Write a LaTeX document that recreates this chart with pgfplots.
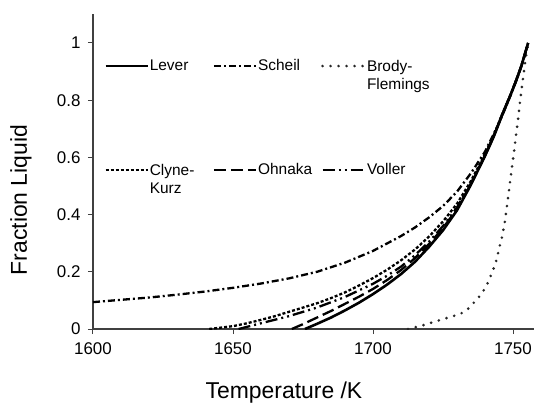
\documentclass[border=0pt]{standalone}
\usepackage{pgfplots}
\pgfplotsset{compat=1.18}
\usepackage{fontspec}
\setmainfont{Liberation Sans}
\begin{document}
\begin{tikzpicture}
\begin{axis}[
  name=ax,
  scale only axis,
  width=441bp, height=314.6bp,
  xmin=1600, xmax=1757.5, ymin=0, ymax=1.1,
  axis lines=left,
  axis line style={-, black!75, line width=1.3bp},
  xtick={1600,1650,1700,1750},
  ytick={0,0.2,0.4,0.6,0.8,1},
  tick align=outside, major tick length=5bp,
  tick style={black!75, line width=1bp},
  /pgf/number format/assume math mode=true,
  /pgf/number format/1000 sep={},
  /pgf/number format/fixed,
  tick label style={font=\fontsize{17}{20}\selectfont},
  xticklabel style={yshift=-5bp},
  yticklabel style={xshift=-4bp},
  xlabel={Temperature /K},
  ylabel={Fraction Liquid},
  label style={font=\fontsize{23}{27}\selectfont},
  xlabel style={at={(rel axis cs:0.433,0)}, anchor=base, yshift=-69bp},
  ylabel style={at={(rel axis cs:0,0.41)}, anchor=center, xshift=0bp, yshift=72bp},
  legend columns=3,
  legend style={at={(rel axis cs:0.025,0.862)}, anchor=north west, draw=none, fill=none,
    font=\fontsize{15.5}{18}\selectfont, row sep=88bp, column sep=0pt,
    inner sep=0pt, nodes={inner sep=1bp}},
  legend cell align=left,
  legend image code/.code={\draw[#1] (0bp,0bp) -- (42bp,0bp);},
  every axis plot/.append style={black, line width=2.3bp},
]
\addplot[line width=2.6bp] coordinates {(1675.7,0) (1680,0.018) (1685,0.04) (1690,0.065) (1695,0.092) (1700,0.122) (1705,0.155) (1710,0.192) (1715,0.235) (1720,0.287) (1725,0.345) (1730,0.415) (1735,0.505) (1740,0.605) (1743,0.67) (1746,0.745) (1749,0.815) (1751,0.865) (1753,0.92) (1755.4,1.0)};
\addlegendentry{\makebox[62bp][l]{Lever}}
\addplot[dash pattern=on 7bp off 3bp on 2bp off 3bp] coordinates {(1600,0.094) (1610,0.102) (1620,0.110) (1630,0.120) (1640,0.131) (1650,0.144) (1660,0.159) (1670,0.177) (1680,0.200) (1690,0.232) (1700,0.273) (1710,0.325) (1715,0.355) (1720,0.39) (1725,0.43) (1730,0.48) (1735,0.545) (1740,0.62) (1745,0.72) (1748,0.79) (1750,0.84) (1752,0.89) (1754,0.95) (1755.4,1.0)};
\addlegendentry{\makebox[62bp][l]{Scheil}}
\addplot[line width=2.9bp, line cap=round, dash pattern=on 0bp off 8bp, black!85] coordinates {(1712.5,0) (1716.8,0.01) (1722.8,0.028) (1728.7,0.045) (1731.8,0.056) (1734.1,0.072) (1736,0.092) (1738.3,0.117) (1740,0.142) (1741.2,0.165) (1742.4,0.195) (1743.6,0.224) (1744.4,0.253) (1745.2,0.288) (1746,0.318) (1747.1,0.375) (1747.9,0.434) (1748.7,0.495) (1749.5,0.556) (1750.3,0.614) (1751,0.672) (1751.8,0.733) (1752.5,0.795) (1753.5,0.87) (1754.3,0.93) (1755.4,1.0)};
\addlegendentry{\begin{tabular}[t]{@{}l@{}}Brody-\\Flemings\end{tabular}}
\addplot[dash pattern=on 3bp off 2bp] coordinates {(1641.5,0) (1645,0.004) (1650,0.01) (1655,0.02) (1660,0.032) (1665,0.045) (1670,0.06) (1675,0.075) (1680,0.09) (1685,0.108) (1690,0.128) (1695,0.152) (1700,0.178) (1705,0.207) (1710,0.24) (1715,0.278) (1720,0.323) (1725,0.376) (1730,0.438) (1735,0.518) (1740,0.612) (1743,0.675) (1746,0.748) (1749,0.817) (1751,0.866) (1753,0.92) (1755.4,1.0)};
\addlegendentry{\makebox[62bp][l]{\begin{tabular}[t]{@{}l@{}}Clyne-\\Kurz\end{tabular}}}
\addplot[dash pattern=on 12bp off 5bp] coordinates {(1671,0) (1675,0.017) (1680,0.04) (1685,0.063) (1690,0.088) (1695,0.113) (1700,0.14) (1705,0.171) (1710,0.206) (1715,0.248) (1720,0.297) (1725,0.353) (1730,0.42) (1735,0.507) (1740,0.606) (1743,0.671) (1746,0.746) (1749,0.816) (1751,0.866) (1753,0.92) (1755.4,1.0)};
\addlegendentry{\makebox[62bp][l]{Ohnaka}}
\addplot[dash pattern=on 12bp off 4bp on 2bp off 4bp on 2bp off 4bp] coordinates {(1652,0) (1660,0.02) (1670,0.045) (1680,0.075) (1690,0.112) (1700,0.158) (1705,0.186) (1710,0.218) (1715,0.258) (1720,0.305) (1725,0.36) (1730,0.425) (1735,0.51) (1740,0.607) (1743,0.672) (1746,0.746) (1749,0.816) (1751,0.866) (1753,0.92) (1755.4,1.0)};
\addlegendentry{Voller}
\end{axis}
\pgfresetboundingbox
\path ([xshift=-93bp, yshift=-74bp]ax.south west) rectangle ([yshift=14.4bp]ax.north east);
\end{tikzpicture}
\end{document}
